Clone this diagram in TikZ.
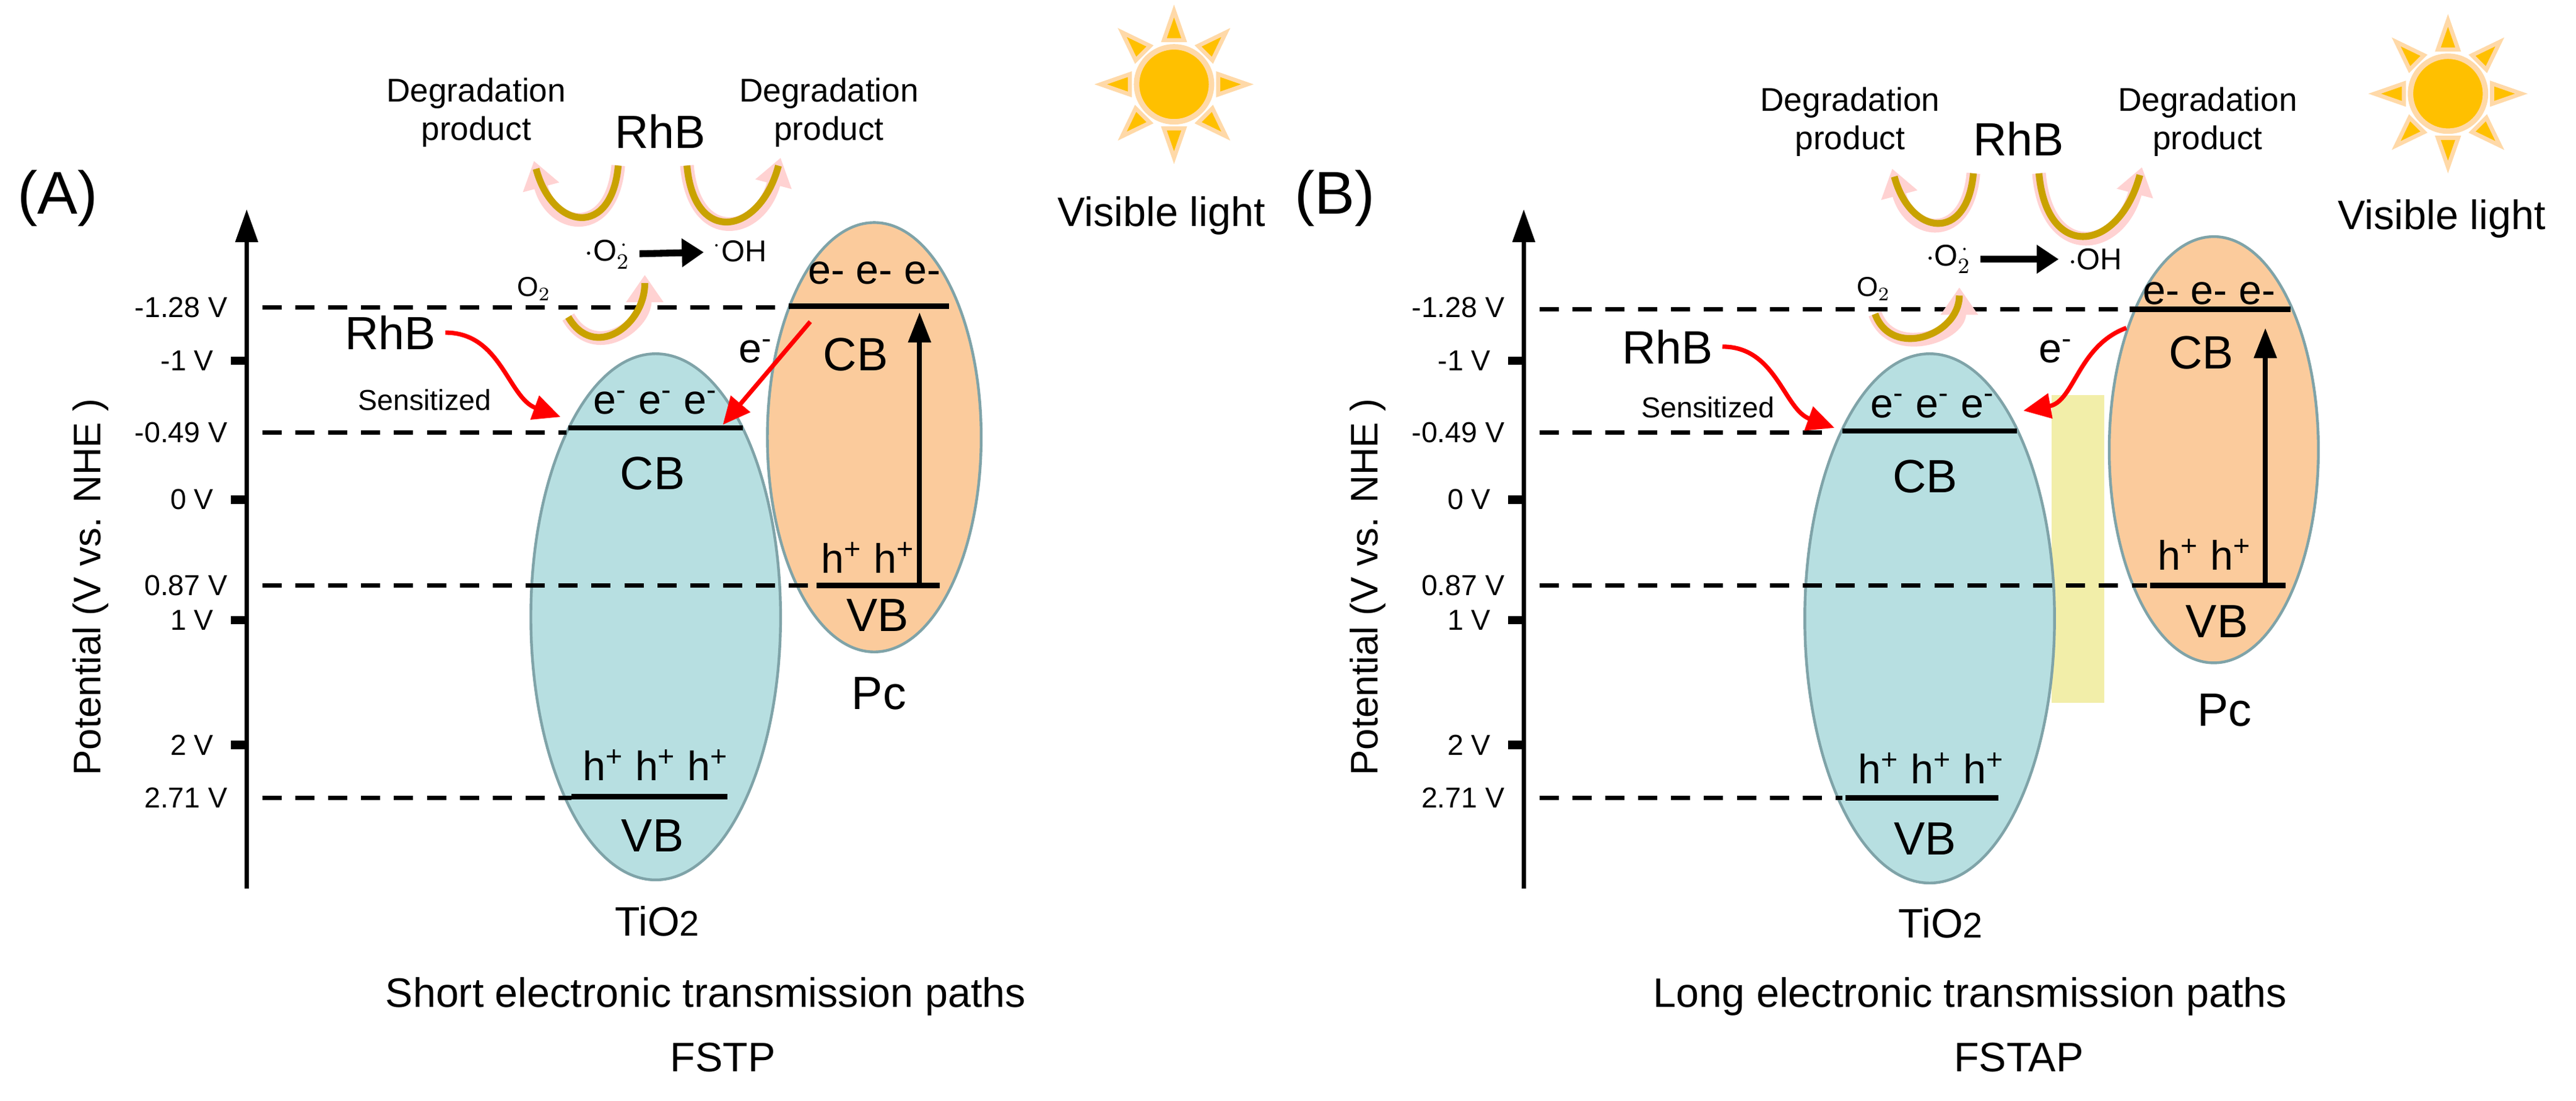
\documentclass[tikz,border=0pt]{standalone}
\usepackage{fontspec}
\setmainfont{Liberation Sans}
\usetikzlibrary{shapes.geometric,arrows.meta,positioning,calc}
\definecolor{tio}{HTML}{B7DFE1}
\definecolor{pcor}{HTML}{FBCB9C}
\definecolor{rim}{HTML}{7FA3A8}
\definecolor{gold}{HTML}{C9A200}
\definecolor{sunor}{HTML}{FFC000}
\definecolor{sunrim}{HTML}{FFD9A8}
\tikzset{
  band/.style={line width=2pt},
  lvl/.style={line width=1.5pt, dash pattern=on 7pt off 5pt},
  tick/.style={font=\fontsize{10.5}{12}\selectfont, anchor=east},
  cyc/.style={line width=5pt, pink!70, -{Triangle[length=10pt,width=13pt]}},
  cycin/.style={line width=2.5pt, gold, shorten >=3pt},
  redarr/.style={red, line width=1.6pt, -{Triangle[length=10pt,width=9pt]}},
  big/.style={font=\fontsize{17}{19}\selectfont},
  mid/.style={font=\fontsize{15}{17}\selectfont},
  sml/.style={font=\fontsize{11}{13}\selectfont},
}
\begin{document}
\begin{tikzpicture}[x=0.02cm,y=-0.02cm]
    \useasboundingbox (0,0) rectangle (1650,705);

    % Axes and energy levels, both panels
    \foreach \ox/\tag in {0/A,818/B} {
        \begin{scope}[xshift=\ox*0.02cm]
        \node[font=\fontsize{22}{24}\selectfont] at (37,127) {(\tag)};
        \draw[line width=1.6pt, -{Triangle[length=12pt,width=8pt]}] (158,569) -- (158,134);
        \node[rotate=90, font=\fontsize{14}{16}\selectfont] at (58,376) {Potential (V vs. NHE )};
        \foreach \y/\v in {231/-1 V, 320/0 V, 397/1 V, 477/2 V} {
            \draw[line width=3pt] (148,\y) -- (158,\y);
            \node[tick] at (143,\y) {\v};
        }
        \foreach \y/\v in {197/-1.28 V, 277/-0.49 V, 375/0.87 V, 511/2.71 V} {
            \node[tick] at (152,\y) {\v};
        }
        \end{scope}
    }

    % Panel A
    \node[ellipse, draw=rim, line width=1pt, fill=tio, minimum width=3.2cm, minimum height=6.74cm, inner sep=0] (tioA) at (420,395) {};
    \node[ellipse, draw=rim, line width=1pt, fill=pcor, minimum width=2.74cm, minimum height=5.5cm, inner sep=0] (pcA) at (560,280) {};
    \draw[lvl] (168,197) -- (505,197);
    \draw[lvl] (168,277) -- (363,277);
    \draw[lvl] (168,375) -- (518,375);
    \draw[lvl] (168,511) -- (366,511);
    \draw[band] (364,274) -- (476,274);
    \draw[band] (366,510) -- (466,510);
    \draw[band] (505,196) -- (608,196);
    \draw[band] (523,375) -- (602,375);
    \node[mid] at (420,258) {e\textsuperscript{-} e\textsuperscript{-} e\textsuperscript{-}};
    \node[big] at (418,303) {CB};
    \node[mid] at (420,490) {h\textsuperscript{+} h\textsuperscript{+} h\textsuperscript{+}};
    \node[big] at (418,535) {VB};
    \node[mid] (tioA-l) at (421,590) {TiO{\fontsize{13}{15}\selectfont 2}};
    \node[mid] at (560,175) {e- e- e-};
    \node[big] at (548,227) {CB};
    \node[mid] at (556,357) {h\textsuperscript{+} h\textsuperscript{+}};
    \node[big] at (562,394) {VB};
    \node[big] at (563,444) {Pc};
    \coordinate (vbA) at (589,373);
    \coordinate (cbA) at (589,200);
    \draw[line width=1.8pt, -{Triangle[length=11pt,width=8pt]}] (vbA) -- (cbA);
    \coordinate (pcoutA) at (519,206);
    \coordinate (tioinA) at (463,272);
    \draw[redarr] (pcoutA) -- (tioinA);
    \node[mid] at (484,225) {e\textsuperscript{-}};
    \node[big] (rhbA) at (250,213) {RhB};
    \node[font=\fontsize{10.5}{12}\selectfont] at (272,256) {Sensitized};
    \coordinate (sensA) at (359,267);
    \draw[redarr] (rhbA.east) to[out=0, in=160] (sensA);
    \node[font=\fontsize{10}{12}\selectfont] at (342,185) {O$_2$};
    \coordinate (oaA) at (364,203);
    \coordinate (obA) at (413,176);
    \draw[cyc] (oaA) to[out=-60, in=-90, looseness=1.5] (obA);
    \draw[cycin] (oaA) to[out=-60, in=-90, looseness=1.5] (obA);
    \node[sml] (o2A) at (389,163) {$\cdot$O$_2^{\,\cdot}$};
    \node[sml] (ohA) at (474,161) {$^{\cdot}$OH};
    \draw[line width=2.5pt, -{Triangle[length=8pt,width=10pt]}] (o2A) -- (ohA);
    \node[big] at (423,84) {RhB};
    \node[font=\fontsize{12}{14}\selectfont, align=center] at (305,72) {Degradation\\product};
    \node[font=\fontsize{12}{14}\selectfont, align=center] at (531,72) {Degradation\\product};
    \coordinate (uaA) at (396,106);
    \coordinate (ubA) at (342,103);
    \coordinate (ucA) at (440,106);
    \coordinate (udA) at (500,101);
    \draw[cyc] (uaA) to[out=-95, in=-75, looseness=2.2] (ubA);
    \draw[cycin] (uaA) to[out=-95, in=-75, looseness=2.2] (ubA);
    \draw[cyc] (ucA) to[out=-85, in=-105, looseness=2.2] (udA);
    \draw[cycin] (ucA) to[out=-85, in=-105, looseness=2.2] (udA);
    \node[font=\fontsize{15}{17}\selectfont] at (744,138) {Visible light};
    \node[font=\fontsize{15}{17}\selectfont] at (452,638) {Short electronic transmission paths};
    \node[font=\fontsize{15}{17}\selectfont] at (463,677) {FSTP};

    % Panel B
    \fill[yellow!60!olive!30] (1314,253) rectangle (1348,450);
    \node[ellipse, draw=rim, line width=1pt, fill=tio, minimum width=3.2cm, minimum height=6.78cm, inner sep=0] (tioB) at (1236,396) {};
    \node[ellipse, draw=rim, line width=1pt, fill=pcor, minimum width=2.68cm, minimum height=5.46cm, inner sep=0] (pcB) at (1418,288) {};
    \draw[lvl] (986,198) -- (1364,198);
    \draw[lvl] (986,277) -- (1175,277);
    \draw[lvl] (986,375) -- (1375,375);
    \draw[lvl] (986,511) -- (1180,511);
    \draw[band] (1180,276) -- (1292,276);
    \draw[band] (1182,511) -- (1280,511);
    \draw[band] (1364,198) -- (1467,198);
    \draw[band] (1377,375) -- (1464,375);
    \node[mid] at (1238,260) {e\textsuperscript{-} e\textsuperscript{-} e\textsuperscript{-}};
    \node[big] at (1233,305) {CB};
    \node[mid] at (1237,492) {h\textsuperscript{+} h\textsuperscript{+} h\textsuperscript{+}};
    \node[big] at (1233,537) {VB};
    \node[mid] (tioB-l) at (1243,591) {TiO{\fontsize{13}{15}\selectfont 2}};
    \node[mid] at (1415,188) {e- e- e-};
    \node[big] at (1410,226) {CB};
    \node[mid] at (1412,355) {h\textsuperscript{+} h\textsuperscript{+}};
    \node[big] at (1420,398) {VB};
    \node[big] at (1425,455) {Pc};
    \coordinate (vbB) at (1451,373);
    \coordinate (cbB) at (1451,210);
    \draw[line width=1.8pt, -{Triangle[length=11pt,width=8pt]}] (vbB) -- (cbB);
    \coordinate (pcoutB) at (1362,210);
    \coordinate (tioinB) at (1296,263);
    \draw[redarr] (pcoutB) to[out=200, in=10] (tioinB);
    \node[mid] at (1317,225) {e\textsuperscript{-}};
    \node[big] (rhbB) at (1068,222) {RhB};
    \node[font=\fontsize{10.5}{12}\selectfont] at (1094,261) {Sensitized};
    \coordinate (sensB) at (1175,274);
    \draw[redarr] (rhbB.east) to[out=0, in=160] (sensB);
    \node[font=\fontsize{10}{12}\selectfont] at (1200,185) {O$_2$};
    \coordinate (oaB) at (1201,201);
    \coordinate (obB) at (1255,184);
    \draw[cyc] (oaB) to[out=-70, in=-90, looseness=1.4] (obB);
    \draw[cycin] (oaB) to[out=-70, in=-90, looseness=1.4] (obB);
    \node[sml] (o2B) at (1248,166) {$\cdot$O$_2^{\,\cdot}$};
    \node[sml] (ohB) at (1342,166) {$\cdot$OH};
    \draw[line width=2.5pt, -{Triangle[length=8pt,width=10pt]}] (o2B) -- (ohB);
    \node[big] at (1293,89) {RhB};
    \node[font=\fontsize{12}{14}\selectfont, align=center] at (1185,78) {Degradation\\product};
    \node[font=\fontsize{12}{14}\selectfont, align=center] at (1414,78) {Degradation\\product};
    \coordinate (uaB) at (1264,111);
    \coordinate (ubB) at (1212,108);
    \coordinate (ucB) at (1306,111);
    \coordinate (udB) at (1372,107);
    \draw[cyc] (uaB) to[out=-95, in=-75, looseness=2.2] (ubB);
    \draw[cycin] (uaB) to[out=-95, in=-75, looseness=2.2] (ubB);
    \draw[cyc] (ucB) to[out=-85, in=-105, looseness=2.2] (udB);
    \draw[cycin] (ucB) to[out=-85, in=-105, looseness=2.2] (udB);
    \node[font=\fontsize{15}{17}\selectfont] at (1564,140) {Visible light};
    \node[font=\fontsize{15}{17}\selectfont] at (1262,638) {Long electronic transmission paths};
    \node[font=\fontsize{15}{17}\selectfont] at (1293,677) {FSTAP};

    % Suns
    \foreach \sx/\sy in {752/54,1568/60} {
        \foreach \a in {0,45,...,315} {
            \filldraw[fill=sunor, draw=sunrim, line width=1.5pt] ($(\sx,\sy)+(\a:47)$) -- ($(\sx,\sy)+(\a+13:29)$) -- ($(\sx,\sy)+(\a-13:29)$) -- cycle;
        }
        \filldraw[fill=sunor, draw=sunrim, line width=2pt] (\sx,\sy) circle [radius=24];
    }
\end{tikzpicture}
\end{document}
